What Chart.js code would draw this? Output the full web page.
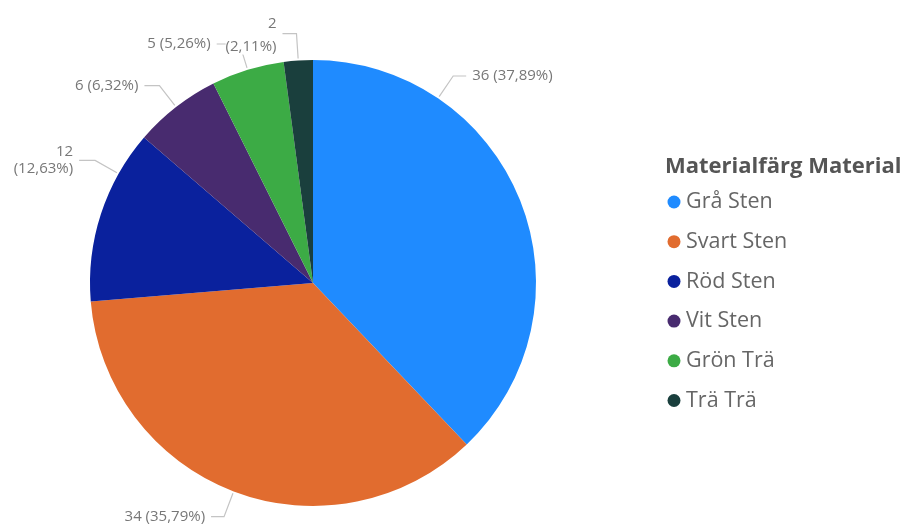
<!DOCTYPE html>
<html>
<head>
<meta charset="utf-8">
<script src="https://cdn.jsdelivr.net/npm/chart.js@4/dist/chart.umd.min.js"></script>
<style>
  html, body { margin: 0; padding: 0; background: #fff; }
  #wrap { position: relative; width: 904px; height: 528px; }
</style>
</head>
<body>
<div id="wrap"><canvas id="chart" width="904" height="528"></canvas></div>
<script>
const categories = ['Grå Sten', 'Svart Sten', 'Röd Sten', 'Vit Sten', 'Grön Trä', 'Trä Trä'];
const counts = [36, 34, 12, 6, 5, 2];
const sliceColors = ['#1F8BFF', '#E16C2F', '#0A219D', '#482B6F', '#3CAB45', '#1A3F3D'];
const legendTitle = 'Materialfärg Material';

// where the leader line leaves each slice (0..1 along the arc), horizontal run, wrap into 2 lines
const labelLayout = [
  { at: 0.25, run: 13, split: false },
  { at: 0.5, run: 13, split: false },
  { at: 0.75, run: 16, split: true, gap: [-9, 8] },
  { at: 0.5, run: 15, split: false },
  { at: 0.5, run: 23, split: false },
  { at: 0.5, run: 14, split: true, gap: [-10, 13] },
];

const FONT = '"Open Sans", "Noto Sans", sans-serif';
const total = counts.reduce((a, b) => a + b, 0);

function pct(v) {
  return (v / total * 100).toFixed(2).replace('.', ',') + '%';
}

// leader lines + data labels, drawn the power bi way
const outsideLabels = {
  id: 'outsideLabels',
  afterDatasetsDraw(chart) {
    const ctx = chart.ctx;
    const arcs = chart.getDatasetMeta(0).data;
    const items = [];
    arcs.forEach((arc, i) => {
      const lay = labelLayout[i];
      const a = arc.startAngle + (arc.endAngle - arc.startAngle) * lay.at;
      const r = arc.outerRadius;
      const cx = arc.x, cy = arc.y;
      const dx = Math.cos(a), dy = Math.sin(a);
      const p0 = [cx + dx * (r + 2), cy + dy * (r + 2)];
      const p1 = [cx + dx * (r + 27), cy + dy * (r + 27)];
      const right = dx >= 0;
      const p2 = [p1[0] + (right ? lay.run : -lay.run), p1[1]];
      items.push({ i, p0, p1, p2, right, lay });
    });

    ctx.save();
    ctx.strokeStyle = '#C4C4C4';
    ctx.lineWidth = 1.2;
    items.forEach(it => {
      ctx.beginPath();
      ctx.moveTo(it.p0[0], it.p0[1]);
      ctx.lineTo(it.p1[0], it.p1[1]);
      ctx.lineTo(it.p2[0], it.p2[1]);
      ctx.stroke();
    });

    ctx.font = '15px ' + FONT;
    ctx.textBaseline = 'middle';
    items.forEach(it => {
      const v = counts[it.i];
      const lines = it.lay.split ? [String(v), '(' + pct(v) + ')'] : [v + ' (' + pct(v) + ')'];
      const offs = it.lay.split ? it.lay.gap : [0];
      const tx = it.p2[0] + (it.right ? 6 : -6);
      ctx.textAlign = it.right ? 'left' : 'right';
      lines.forEach((t, k) => {
        const y = it.p1[1] + offs[k];
        const w = ctx.measureText(t).width;
        ctx.fillStyle = '#fff';
        ctx.fillRect(it.right ? tx : tx - w, y - 8, w, 16);
        ctx.fillStyle = '#777777';
        ctx.fillText(t, tx, y);
      });
    });
    ctx.restore();
  }
};

// legend on the right
const sideLegend = {
  id: 'sideLegend',
  afterDraw(chart) {
    const ctx = chart.ctx;
    ctx.save();
    ctx.textBaseline = 'middle';
    ctx.textAlign = 'left';
    ctx.fillStyle = '#555555';
    ctx.font = 'bold 22px ' + FONT;
    ctx.fillText(legendTitle, 665, 167);
    ctx.font = '21.5px ' + FONT;
    categories.forEach((c, i) => {
      const y = 202 + i * 39.7;
      ctx.fillStyle = sliceColors[i];
      ctx.beginPath();
      ctx.arc(674, y, 6.5, 0, Math.PI * 2);
      ctx.fill();
      ctx.fillStyle = '#666666';
      ctx.fillText(c, 686, y);
    });
    ctx.restore();
  }
};

new Chart(document.getElementById('chart'), {
  type: 'pie',
  data: {
    labels: categories,
    datasets: [{
      data: counts,
      backgroundColor: sliceColors,
      borderWidth: 0,
    }],
  },
  options: {
    responsive: false,
    animation: false,
    layout: { padding: { top: 60, bottom: 22, left: 90, right: 368 } },
    plugins: {
      legend: { display: false },
      tooltip: { enabled: false },
    },
  },
  plugins: [outsideLabels, sideLegend],
});
</script>
</body>
</html>
